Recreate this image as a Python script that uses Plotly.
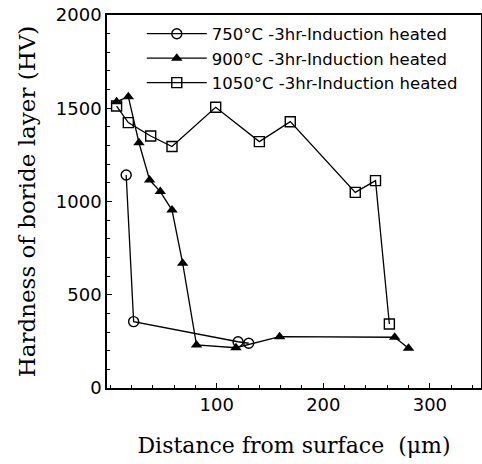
import plotly.graph_objects as go

# Data
x750 = [15, 22, 120, 130]
y750 = [1142, 356, 248, 240]

x900 = [6, 17, 27, 37, 47, 58, 68, 81, 118, 159, 267, 280]
y900 = [1535, 1562, 1315, 1115, 1053, 954, 669, 231, 216, 275, 272, 213]

x1050 = [6, 17, 38, 58, 99, 140, 169, 230, 249, 262]
y1050 = [1512, 1423, 1351, 1295, 1505, 1321, 1428, 1049, 1112, 343]

names = ["750°C -3hr-Induction heated",
         "900°C -3hr-Induction heated",
         "1050°C -3hr-Induction heated"]

xticks = [100, 200, 300]
yticks = [0, 500, 1000, 1500, 2000]

fig = go.Figure()
line = dict(color="black", width=1.3)
fig.add_trace(go.Scatter(x=x750, y=y750, mode="lines+markers", name=names[0], line=line,
                         marker=dict(symbol="circle-open", size=10, color="black", line=dict(width=1.4))))
fig.add_trace(go.Scatter(x=x900, y=y900, mode="lines+markers", name=names[1], line=line,
                         marker=dict(symbol="triangle-up", size=10, color="black")))
fig.add_trace(go.Scatter(x=x1050, y=y1050, mode="lines+markers", name=names[2], line=line,
                         marker=dict(symbol="square-open", size=10, color="black", line=dict(width=1.4))))

fig.update_layout(
    width=482, height=464,
    margin=dict(l=107, r=1, t=15, b=76, autoexpand=False),
    paper_bgcolor="white", plot_bgcolor="white",
    showlegend=True,
    legend=dict(x=0.093, y=0.996, xanchor="left", yanchor="top",
                font=dict(family="DejaVu Sans", size=16.5, color="black"),
                bgcolor="rgba(0,0,0,0)", itemwidth=60, tracegroupgap=0),
    font=dict(family="DejaVu Sans", color="black"),
)
fig.update_xaxes(range=[-3, 348], tickvals=xticks, ticks="inside", ticklen=5,
                 tickcolor="black", showline=True, linecolor="black", linewidth=1.5,
                 mirror=True, showgrid=False, zeroline=False, automargin=False,
                 minor=dict(dtick=20, tick0=0, ticks="inside", ticklen=3, tickcolor="black", showgrid=False),
                 tickfont=dict(family="DejaVu Sans", size=18),
                 title=dict(text="Distance from surface  (μm)", standoff=23,
                            font=dict(family="DejaVu Serif", size=22)))
fig.update_yaxes(range=[0, 2000], tickvals=yticks, ticks="inside", ticklen=5,
                 tickcolor="black", showline=True, linecolor="black", linewidth=1.5,
                 mirror=True, showgrid=False, zeroline=False, automargin=False,
                 minor=dict(dtick=100, tick0=0, ticks="inside", ticklen=3, tickcolor="black", showgrid=False),
                 tickfont=dict(family="DejaVu Sans", size=18),
                 title=dict(text="Hardness of boride layer (HV)", standoff=14,
                            font=dict(family="DejaVu Serif", size=23)))

fig.write_html("out.html", config={"displayModeBar": False},
               post_script="document.body.style.margin='0';document.body.style.overflow='hidden';")
